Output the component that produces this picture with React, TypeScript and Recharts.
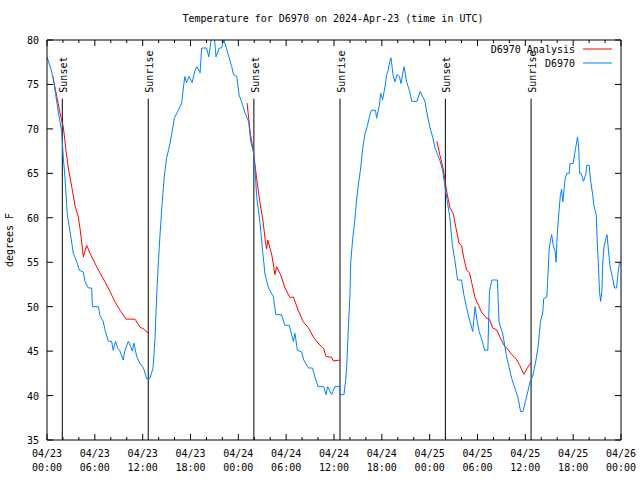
import { LineChart, Line, XAxis, YAxis, ReferenceLine, Legend } from 'recharts';

// hours since 2024-04-23 00:00 UTC
const blueHours = [
  0, 0.4, 0.8, 1.1, 1.42, 1.84, 2.05, 2.26, 2.55, 2.9, 3.3, 3.72, 4.06, 4.56, 4.77, 5.2, 5.6, 5.7,
  6.44, 6.65, 7.06, 7.27, 7.7, 8.1, 8.3, 8.6, 8.9, 9.1, 9.57, 9.78, 10.2, 10.5, 10.7, 10.9, 11.25,
  11.67, 12.1, 12.5, 12.9, 13.3, 13.55, 13.76, 13.97, 14.17, 14.39, 14.68, 15.0, 15.4, 15.7, 15.97,
  16.47, 16.9, 17.1, 17.3, 17.5, 17.8, 18.2, 18.57, 18.8, 19.2, 19.4, 20.0, 20.3, 20.65, 21.0, 21.2,
  21.6, 21.9, 22.2, 22.75, 23.17, 23.4, 23.8, 24.1, 24.4, 24.8, 25.3, 25.55, 25.9, 26.1, 26.3, 26.7,
  27.05, 27.35, 27.8, 28.4, 28.7, 29.4, 29.85, 30.4, 30.7, 30.9, 31.1, 31.4, 31.95, 32.2, 32.8, 33.3,
  33.6, 34.0, 34.7, 35.0, 35.2, 35.7, 36.1, 36.7, 36.8, 37.25, 37.45, 37.6, 37.8, 38.0, 38.1, 38.35,
  38.6, 38.85, 39.05, 39.35, 39.6, 39.9, 40.2, 40.5, 40.7, 41.2, 41.35, 41.7, 41.85, 42.1, 42.4, 42.6,
  42.8, 43.0, 43.15, 43.4, 43.65, 43.9, 44.2, 44.4, 44.6, 44.8, 45.1, 45.5, 45.75, 46.4, 46.8, 47.2,
  47.4, 47.7, 48.05, 48.4, 48.7, 49.0, 49.3, 49.65, 49.9, 50.15, 50.55, 50.85, 51.2, 51.5, 52.0, 52.3,
  52.65, 53.06, 53.4, 53.7, 53.9, 54.2, 54.5, 54.9, 55.3, 55.5, 55.8, 56.5, 56.7, 57.2, 57.6, 57.9,
  58.3, 58.7, 59.1, 59.4, 59.7, 60.0, 60.3, 60.6, 60.9, 61.3, 61.6, 61.9, 62.2, 62.3, 62.7, 62.8, 62.9,
  63.0, 63.2, 63.3, 63.5, 63.75, 63.85, 64.0, 64.15, 64.25, 64.4, 64.55, 64.7, 64.85, 65.0, 65.2, 65.5,
  65.6, 66.0, 66.2, 66.3, 66.45, 66.55, 66.7, 66.8, 67.0, 67.3, 67.6, 67.7, 68.0, 68.2, 68.45, 68.6,
  68.9, 69.0, 69.15, 69.3, 69.45, 69.6, 69.7, 69.85, 70.1, 70.25, 70.4, 70.6, 70.85, 71.2, 71.45, 71.6,
  71.8, 72.0,
];
const blueTemps = [
  78.1, 77.0, 75.7, 73.8, 71.9, 69.7, 66.7, 64.5, 60.3, 58.4, 56.0, 55.1, 54.1, 53.9, 52.8, 52.1, 52.1, 50.0,
  50.0, 49.0, 48.3, 47.4, 46.1, 46.1, 45.1, 46.1, 45.3, 45.1, 44.0, 45.1, 46.1, 45.5, 45.0, 45.9, 44.4,
  43.6, 43.1, 41.9, 41.9, 43.1, 46.4, 51.3, 55.0, 58.0, 61.0, 64.4, 66.7, 68.2, 69.7, 71.2,
  72.1, 72.9, 74.6, 75.9, 75.2, 75.9, 75.2, 76.6, 77.0, 76.3, 79.1, 79.1, 78.1, 80.5, 80.3, 78.1,
  79.1, 79.1, 80.0, 78.3, 77.0, 76.1, 75.9, 73.8, 73.1, 71.9, 70.8, 68.6, 67.4, 65.5, 62.4, 59.6,
  56.2, 53.6, 52.1, 51.1, 49.1, 49.1, 47.9, 47.9, 46.8, 46.1, 47.0, 45.1, 44.9, 44.0, 43.1, 43.1,
  42.1, 41.0, 41.0, 40.1, 41.0, 40.1, 41.0, 41.0, 40.1, 40.1, 41.6, 43.4, 47.6, 51.3, 55.0, 57.7,
  59.6, 62.2, 63.7, 65.6, 67.8, 69.5, 70.4, 71.6, 72.1, 72.1, 71.2, 72.7, 74.0, 73.3, 74.75, 76.1,
  76.6, 77.6, 78.0, 76.1, 75.3, 76.1, 75.9, 75.1, 76.1, 77.0, 75.3, 74.2, 73.1, 73.1, 74.2, 73.5,
  73.1, 71.6, 70.1, 69.0, 67.8, 67.1, 66.4, 65.2, 63.6, 62.2, 59.9, 56.9, 55.0, 53.0, 53.0, 51.3,
  49.8, 48.3, 47.2, 50.0, 48.7, 47.2, 46.4, 45.1, 45.1, 51.7, 53.0, 53.0, 48.3, 46.8, 44.6, 43.4,
  41.9, 40.8, 39.7, 38.2, 38.2, 39.3, 40.4, 41.6, 42.1, 43.8, 45.5, 48.3, 49.4, 50.9, 51.1, 52.8, 54.7,
  56.6, 57.7, 58.1, 56.9, 56.2, 55.0, 58.0, 59.9, 61.0, 62.6, 63.2, 61.8, 63.2, 64.4, 65.0, 65.0,
  66.1, 66.1, 67.25, 67.8, 68.6, 69.1, 67.8, 65.0, 65.0, 64.1, 65.0, 65.9, 65.9, 64.1, 62.6, 61.4,
  60.3, 57.7, 55.0, 51.7, 50.6, 51.7, 54.7, 56.6, 57.7, 58.1, 56.6, 54.7, 53.6, 52.1, 52.1, 53.6,
  54.9, 55.0,
];

// analysis only exists overnight; null marks the gaps
const redHours = [
  0.71, 1.2, 1.63, 2.05, 2.38, 2.67, 3.1, 3.5, 3.93, 4.14, 4.35, 4.56, 4.97, 5.4, 6.0, 6.65, 7.27,
  7.9, 8.5, 9.16, 9.9, 11.04, 11.67, 12.1, 12.7,
  18,
  25.1, 25.5, 25.9, 26.3, 26.7, 27.1, 27.4, 27.55, 27.7, 28.2, 28.6, 28.8, 29.3, 29.85, 30.5, 30.9,
  31.5, 32.15, 32.8, 33.4, 34.0, 34.7, 35.0, 35.7, 35.9, 36.8,
  42,
  48.9, 49.3, 49.7, 50.15, 50.55, 50.95, 51.4, 51.7, 52.0, 52.3, 52.65, 53.0, 53.3, 53.7, 54.1, 54.5,
  55.15, 55.5, 55.9, 56.4, 56.8, 57.3, 57.9, 58.3, 58.8, 59.3, 59.8, 60.25, 60.8,
];
const redTemps = [
  75.9, 73.8, 71.8, 70.2, 67.6, 65.6, 63.5, 61.4, 60.1, 58.8, 57.3, 55.6, 56.9, 56.0, 54.9, 53.8, 52.8,
  51.7, 50.6, 49.6, 48.6, 48.6, 47.7, 47.5, 47.0,
  null,
  72.9, 69.5, 67.4, 64.4, 61.8, 59.6, 57.3, 56.5, 57.5, 55.8, 53.6, 54.5, 53.6, 52.1, 51.0, 51.1,
  49.6, 48.3, 47.6, 46.6, 45.9, 45.3, 44.4, 44.3, 43.9, 44.0,
  null,
  68.6, 67.0, 65.5, 62.9, 61.1, 60.5, 58.4, 57.1, 56.9, 55.4, 54.1, 53.8, 52.6, 51.0, 50.2, 49.4,
  48.7, 48.6, 47.6, 47.4, 46.6, 45.7, 45.1, 44.6, 44.2, 43.4, 42.4, 43.1, 43.8,
];

const eventHours = [1.92, 12.7, 25.95, 36.75, 49.97, 60.72];
const eventLabels = ['Sunset', 'Sunrise', 'Sunset', 'Sunrise', 'Sunset', 'Sunrise'];

const seriesNames = ['D6970 Analysis', 'D6970'];

const xMajorTicks = [0, 6, 12, 18, 24, 30, 36, 42, 48, 54, 60, 66, 72];
const xTickDates = ['04/23', '04/23', '04/23', '04/23', '04/24', '04/24', '04/24', '04/24', '04/25', '04/25', '04/25', '04/25', '04/26'];
const xTickTimes = ['00:00', '06:00', '12:00', '18:00', '00:00', '06:00', '12:00', '18:00', '00:00', '06:00', '12:00', '18:00', '00:00'];
const xAllTicks = [0, 2, 4, 6, 8, 10, 12, 14, 16, 18, 20, 22, 24, 26, 28, 30, 32, 34, 36, 38, 40, 42, 44, 46, 48, 50, 52, 54, 56, 58, 60, 62, 64, 66, 68, 70, 72];
const yTicks = [35, 40, 45, 50, 55, 60, 65, 70, 75, 80];

const blueData = blueHours.map((t, i) => ({ t, v: blueTemps[i] }));
const redData = redHours.map((t, i) => ({ t, v: redTemps[i] }));

const FONT = '"DejaVu Sans Mono", monospace';
const RED = '#ff0000';
const BLUE = '#0080ff';
const LINE_TOP = 73.4; // where the sunrise/sunset markers stop

function BottomTick({ x, y, payload }: any) {
  const i = xMajorTicks.indexOf(payload.value);
  const major = i >= 0;
  return (
    <g>
      <line x1={x} y1={y} x2={x} y2={y - (major ? 6 : 3)} stroke="#000" />
      {major && (
        <text x={x} y={y + 17} textAnchor="middle" fontSize={10} fontFamily={FONT} fill="#000">
          <tspan x={x}>{xTickDates[i]}</tspan>
          <tspan x={x} dy={14}>{xTickTimes[i]}</tspan>
        </text>
      )}
    </g>
  );
}

function TopTick({ x, y, payload }: any) {
  const major = xMajorTicks.includes(payload.value);
  return <line x1={x} y1={y} x2={x} y2={y + (major ? 6 : 3)} stroke="#000" />;
}

function LeftTick({ x, y, payload }: any) {
  return (
    <g>
      <line x1={x} y1={y} x2={x + 6} y2={y} stroke="#000" />
      <text x={x - 8} y={y + 4} textAnchor="end" fontSize={10} fontFamily={FONT} fill="#000">
        {payload.value}
      </text>
    </g>
  );
}

function RightTick({ x, y }: any) {
  return <line x1={x} y1={y} x2={x - 6} y2={y} stroke="#000" />;
}

function eventLabel(text: string) {
  return (props: any) => {
    const { x, y } = props.viewBox;
    const lx = x + 5;
    const ly = y - 6;
    return (
      <text
        x={lx}
        y={ly}
        transform={`rotate(-90 ${lx} ${ly})`}
        textAnchor="start"
        fontSize={10}
        fontFamily={FONT}
        fill="#000"
      >
        {text}
      </text>
    );
  };
}

function LegendBox({ payload }: any) {
  const items = seriesNames
    .map((n) => (payload || []).find((p: any) => p.value === n))
    .filter(Boolean);
  return (
    <svg width={140} height={32} style={{ display: 'block', overflow: 'visible' }}>
      {items.map((p: any, i: number) => (
        <g key={p.value}>
          <text x={95} y={13 + i * 14} textAnchor="end" fontSize={10} fontFamily={FONT} fill="#000">
            {p.value}
          </text>
          <line x1={103} x2={132} y1={9 + i * 14} y2={9 + i * 14} stroke={p.color} />
        </g>
      ))}
    </svg>
  );
}

export default function App() {
  return (
    <div style={{ position: 'absolute', left: 0, top: 0, width: 640, height: 480, background: '#fff' }}>
      <div
        style={{
          position: 'absolute',
          left: 0,
          top: 13,
          width: 666,
          textAlign: 'center',
          fontFamily: FONT,
          fontSize: 10,
          lineHeight: '12px',
        }}
      >
        Temperature for D6970 on 2024-Apr-23 (time in UTC)
      </div>
      <div
        style={{
          position: 'absolute',
          left: -40,
          top: 234,
          width: 100,
          height: 12,
          textAlign: 'center',
          fontFamily: FONT,
          fontSize: 10,
          lineHeight: '12px',
          transform: 'rotate(-90deg)',
        }}
      >
        degrees F
      </div>
      <LineChart width={640} height={480} margin={{ top: 39, right: 18, bottom: 39, left: 46 }}>
        <XAxis
          xAxisId={0}
          type="number"
          dataKey="t"
          domain={[0, 72]}
          allowDataOverflow
          ticks={xAllTicks}
          interval={0}
          height={1}
          tickSize={0}
          tickMargin={0}
          tickLine={false}
          axisLine={{ stroke: '#000' }}
          tick={<BottomTick />}
        />
        <XAxis
          xAxisId="top"
          orientation="top"
          type="number"
          dataKey="t"
          domain={[0, 72]}
          allowDataOverflow
          ticks={xAllTicks}
          interval={0}
          height={1}
          tickSize={0}
          tickMargin={0}
          tickLine={false}
          axisLine={{ stroke: '#000' }}
          tick={<TopTick />}
        />
        <YAxis
          yAxisId={0}
          type="number"
          domain={[35, 80]}
          allowDataOverflow
          ticks={yTicks}
          interval={0}
          width={1}
          tickSize={0}
          tickMargin={0}
          tickLine={false}
          axisLine={{ stroke: '#000' }}
          tick={<LeftTick />}
        />
        <YAxis
          yAxisId="right"
          orientation="right"
          type="number"
          domain={[35, 80]}
          allowDataOverflow
          ticks={yTicks}
          interval={0}
          width={1}
          tickSize={0}
          tickMargin={0}
          tickLine={false}
          axisLine={{ stroke: '#000' }}
          tick={<RightTick />}
        />
        {eventHours.map((h, i) => (
          <ReferenceLine
            key={i}
            xAxisId={0}
            yAxisId={0}
            segment={[
              { x: h, y: 35 },
              { x: h, y: LINE_TOP },
            ]}
            stroke="#000"
            label={eventLabel(eventLabels[i])}
          />
        ))}
        <Legend
          layout="vertical"
          align="center"
          verticalAlign="middle"
          wrapperStyle={{ left: 480, top: 40, width: 140, height: 32 }}
          content={<LegendBox />}
        />
        <Line
          xAxisId={0}
          yAxisId={0}
          data={redData}
          dataKey="v"
          name="D6970 Analysis"
          stroke={RED}
          strokeWidth={1}
          dot={false}
          isAnimationActive={false}
        />
        <Line
          xAxisId={0}
          yAxisId={0}
          data={blueData}
          dataKey="v"
          name="D6970"
          stroke={BLUE}
          strokeWidth={1}
          dot={false}
          isAnimationActive={false}
        />
      </LineChart>
    </div>
  );
}
